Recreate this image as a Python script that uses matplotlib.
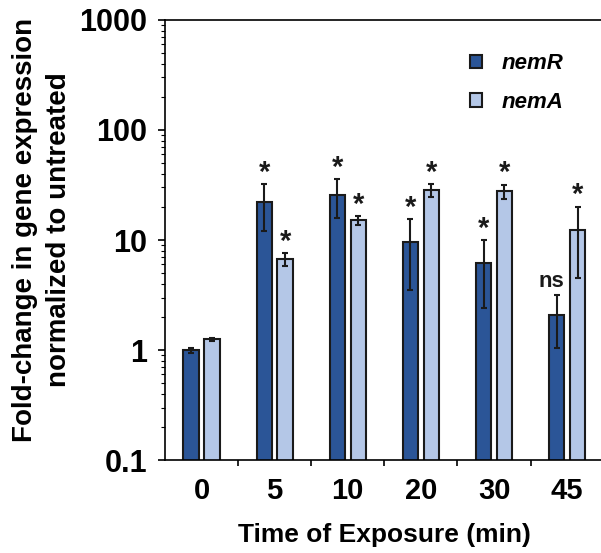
import numpy as np
import matplotlib.pyplot as plt

plt.rcParams['font.family'] = ['Liberation Sans', 'DejaVu Sans']
plt.rcParams['font.weight'] = 'bold'

times = ['0', '5', '10', '20', '30', '45']
nemR = [1.0, 22.0, 25.8, 9.5, 6.2, 2.1]
nemR_err = [0.05, 10.0, 10.0, 6.0, 3.8, 1.05]
nemA = [1.25, 6.7, 15.1, 28.5, 27.7, 12.3]
nemA_err = [0.04, 0.9, 1.5, 4.0, 4.2, 7.8]
nemR_sig = ['', '*', '*', '*', '*', 'ns']
nemA_sig = ['', '*', '*', '*', '*', '*']

dark = '#2B5597'
light = '#B4C7E7'
ink = '#1a1a1a'

fig = plt.figure(figsize=(6.01, 5.53), dpi=100)
ax = fig.add_axes([0.2745, 0.168, 0.73, 0.796])

x = np.arange(len(times))
off = 0.143
w = 0.21
ekw = dict(elinewidth=1.5, capthick=1.5, ecolor=ink)
ax.bar(x - off, nemR, w, color=dark, edgecolor=ink, linewidth=1.5,
       yerr=nemR_err, capsize=2.5, error_kw=ekw, label='nemR', zorder=2)
ax.bar(x + off, nemA, w, color=light, edgecolor=ink, linewidth=1.5,
       yerr=nemA_err, capsize=2.5, error_kw=ekw, label='nemA', zorder=2)

# significance marks above the error bars
for xs, vals, errs, sigs in [(x - off, nemR, nemR_err, nemR_sig),
                             (x + off, nemA, nemA_err, nemA_sig)]:
    for xi, v, e, s in zip(xs, vals, errs, sigs):
        if s == '*':
            ax.annotate(s, (xi, v + e), xytext=(0, -2), textcoords='offset points',
                        ha='center', va='bottom', fontsize=21, color=ink)
        elif s:
            ax.annotate(s, (xi, v + e), xytext=(-4, 2), textcoords='offset points',
                        ha='center', va='bottom', fontsize=16, color=ink)

ax.set_yscale('log')
ax.set_ylim(0.1, 1000)
ax.set_xlim(-0.5, 5.5)
ax.set_yticks([0.1, 1, 10, 100, 1000])
ax.set_yticklabels(['0.1', '1', '10', '100', '1000'])
ax.set_xticks(x)
ax.set_xticklabels(times)
ax.set_xticks(np.arange(0.5, 5.5, 1), minor=True)
ax.tick_params(axis='x', which='major', length=0, labelsize=21, pad=12)
ax.tick_params(axis='x', which='minor', length=4, width=1.2, direction='out')
ax.tick_params(axis='y', which='major', length=5, width=1.2, labelsize=22, pad=8)
ax.tick_params(axis='y', which='minor', length=3, width=0.8)
ax.spines['right'].set_visible(False)
for s in ['left', 'bottom', 'top']:
    ax.spines[s].set_linewidth(1.2)

ax.set_ylabel('Fold-change in gene expression\nnormalized to untreated',
              fontsize=20, fontweight='bold', linespacing=1.4)
ax.yaxis.set_label_coords(-0.213, 0.523)
ax.set_xlabel('Time of Exposure (min)', fontsize=19, fontweight='bold', labelpad=13)

ax.legend(loc='upper right', bbox_to_anchor=(0.955, 0.97), frameon=False,
          prop={'style': 'italic', 'weight': 'bold', 'size': 16},
          handlelength=0.55, handleheight=0.55, handletextpad=0.9, labelspacing=0.8)

fig.savefig('out.png', dpi=100)
